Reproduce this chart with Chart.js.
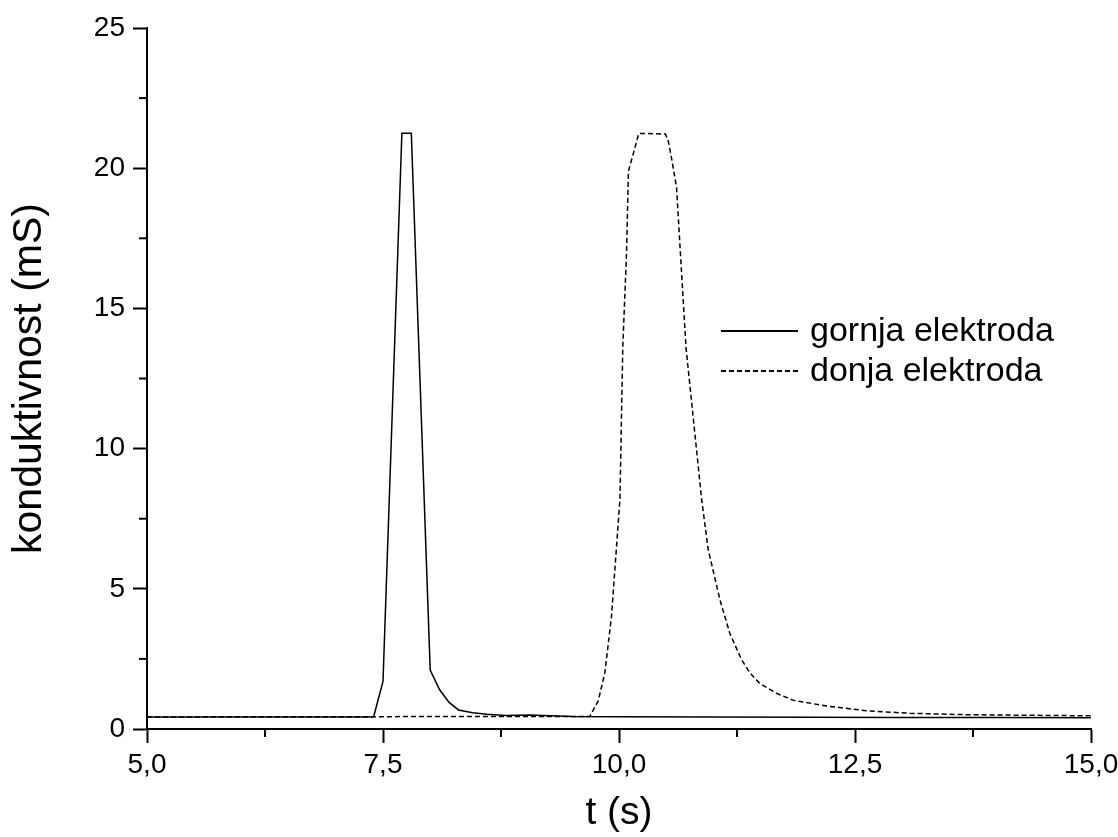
<!DOCTYPE html>
<html><head><meta charset="utf-8">
<script src="https://cdn.jsdelivr.net/npm/chart.js@4.4.1/dist/chart.umd.min.js"></script>
<style>html,body{margin:0;padding:0;background:#fff;} #wrap{width:1118px;height:837px;position:relative;}</style>
</head><body><div id="wrap"><canvas id="c" width="1118" height="837"></canvas></div>
<script>
// ---- data ----
const gornjaLabel = 'gornja elektroda';
const donjaLabel = 'donja elektroda';
const gornjaT = [5.0, 6.0, 7.0, 7.4, 7.5, 7.7, 7.8, 8.0, 8.1, 8.2, 8.3, 8.45, 8.6, 8.8, 9.05, 9.5, 10.0, 11.0, 12.0, 13.0, 14.0, 15.0];
const gornjaV = [0.43, 0.43, 0.43, 0.43, 1.7, 21.25, 21.25, 2.1, 1.4, 0.95, 0.68, 0.58, 0.53, 0.48, 0.5, 0.45, 0.44, 0.43, 0.42, 0.41, 0.41, 0.40];
const donjaT = [5.0, 9.69, 9.78, 9.85, 9.92, 10.01, 10.04, 10.08, 10.10, 10.15, 10.21, 10.49, 10.52, 10.56, 10.61, 10.65, 10.71, 10.875, 10.945, 11.07, 11.175, 11.30, 11.39, 11.49, 11.67, 11.85, 12.2, 12.62, 13.08, 13.68, 14.3, 15.0];
const donjaV = [0.43, 0.45, 1.0, 2.0, 4.0, 8.2, 13.6, 17.0, 19.9, 20.5, 21.24, 21.22, 21.0, 20.3, 19.3, 17.0, 13.6, 8.2, 6.4, 4.6, 3.4, 2.46, 1.99, 1.63, 1.27, 1.02, 0.82, 0.65, 0.56, 0.51, 0.49, 0.47];
const xMajorTicks = [5, 7.5, 10, 12.5, 15];
const xTickLabels = ['5,0', '7,5', '10,0', '12,5', '15,0'];
const yMajorTicks = [0, 5, 10, 15, 20, 25];
const yTickLabels = ['0', '5', '10', '15', '20', '25'];
const xTitle = 't (s)';
const yTitle = 'konduktivnost (mS)';

const FONT = "'Liberation Sans', Arial, sans-serif";
const pts = (t, v) => t.map((x, i) => ({x: x, y: v[i]}));
function majorIndex(list, v) { return list.findIndex(m => Math.abs(m - v) < 1e-6); }

const minorTicks = {
  id: 'minorTicks',
  afterDraw(chart) {
    const ctx = chart.ctx;
    ctx.save();
    ctx.strokeStyle = '#000';
    ctx.lineWidth = 2;
    const xs = chart.scales.x, ys = chart.scales.y;
    xs.ticks.forEach(t => {
      if (majorIndex(xMajorTicks, t.value) < 0) {
        const px = xs.getPixelForValue(t.value);
        ctx.beginPath(); ctx.moveTo(px, xs.top); ctx.lineTo(px, xs.top + 8); ctx.stroke();
      }
    });
    ys.ticks.forEach(t => {
      if (majorIndex(yMajorTicks, t.value) < 0) {
        const py = ys.getPixelForValue(t.value);
        ctx.beginPath(); ctx.moveTo(ys.right, py); ctx.lineTo(ys.right - 8, py); ctx.stroke();
      }
    });
    ctx.restore();
  }
};

const customLegend = {
  id: 'customLegend',
  afterDraw(chart) {
    const ctx = chart.ctx;
    ctx.save();
    ctx.font = '34px ' + FONT;
    ctx.fillStyle = '#000';
    ctx.textBaseline = 'middle';
    chart.data.datasets.forEach((ds, i) => {
      const y = 331 + i * 40;
      ctx.strokeStyle = '#000';
      ctx.lineWidth = 2;
      ctx.setLineDash(ds.borderDash || []);
      ctx.beginPath(); ctx.moveTo(721, y); ctx.lineTo(798, y); ctx.stroke();
      ctx.setLineDash([]);
      ctx.fillText(ds.label, 810, y + 1);
    });
    ctx.restore();
  }
};

new Chart(document.getElementById('c'), {
  type: 'line',
  data: {
    datasets: [
      {label: gornjaLabel, data: pts(gornjaT, gornjaV), borderColor: '#000', borderWidth: 1.5, pointRadius: 0, tension: 0, fill: false},
      {label: donjaLabel, data: pts(donjaT, donjaV), borderColor: '#000', borderWidth: 1.5, borderDash: [5, 3], pointRadius: 0, tension: 0, fill: false}
    ]
  },
  options: {
    responsive: false,
    animation: false,
    layout: {padding: {top: 28, right: 27, left: 0, bottom: 0}},
    plugins: {legend: {display: false}, tooltip: {enabled: false}},
    scales: {
      x: {
        type: 'linear', min: 5, max: 15,
        afterFit(s) { s.height = 108; s.paddingRight = 0; s.paddingLeft = 0; },
        border: {display: true, color: '#000', width: 2},
        grid: {display: true, drawOnChartArea: false, drawTicks: true, tickLength: 14, tickWidth: 2,
               tickColor: c => (c.tick && majorIndex(xMajorTicks, c.tick.value) >= 0) ? '#000' : 'rgba(0,0,0,0)'},
        ticks: {stepSize: 1.25, autoSkip: false, maxRotation: 0, padding: 5, color: '#000',
                font: {family: FONT, size: 28},
                callback: v => { const i = majorIndex(xMajorTicks, v); return i >= 0 ? xTickLabels[i] : ''; }},
        title: {display: true, text: xTitle, color: '#000', font: {family: FONT, size: 39}, padding: {top: 0, bottom: 0}}
      },
      y: {
        type: 'linear', min: 0, max: 25,
        afterFit(s) { s.width = 147; s.paddingTop = 0; s.paddingBottom = 0; },
        border: {display: true, color: '#000', width: 2},
        grid: {display: true, drawOnChartArea: false, drawTicks: true, tickLength: 14, tickWidth: 2,
               tickColor: c => (c.tick && majorIndex(yMajorTicks, c.tick.value) >= 0) ? '#000' : 'rgba(0,0,0,0)'},
        ticks: {stepSize: 2.5, autoSkip: false, padding: 8, color: '#000',
                font: {family: FONT, size: 28},
                callback: v => { const i = majorIndex(yMajorTicks, v); return i >= 0 ? yTickLabels[i] : ''; }},
        title: {display: true, text: yTitle, color: '#000', font: {family: FONT, size: 41}, padding: {top: 5, bottom: 0}}
      }
    }
  },
  plugins: [minorTicks, customLegend]
});
</script>
</body></html>
